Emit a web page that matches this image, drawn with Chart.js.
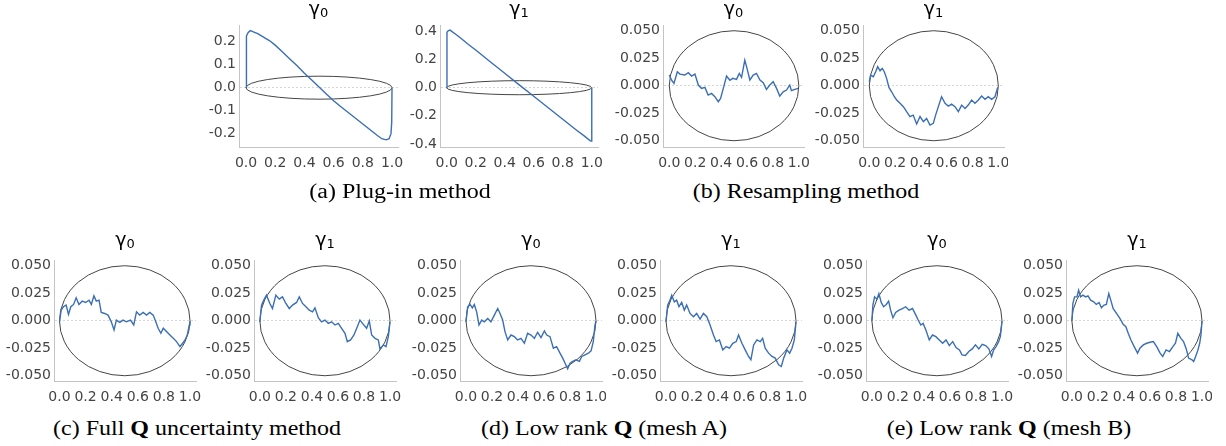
<!DOCTYPE html>
<html>
<head>
<meta charset="utf-8">
<script src="https://cdn.jsdelivr.net/npm/chart.js@4/dist/chart.umd.min.js"></script>
<style>
  html, body { margin: 0; padding: 0; background: #fff; }
  body { width: 1226px; height: 446px; position: relative; overflow: hidden; }
  canvas { position: absolute; }
  .caption {
    position: absolute;
    font-family: "Liberation Serif", "Times New Roman", serif;
    font-size: 20px;
    line-height: 20px;
    color: #000;
    white-space: nowrap;
    transform: translate(-50%, -50%) scaleX(1.2);
  }
  .ptitle {
    position: absolute;
    font-family: "DejaVu Sans", sans-serif;
    font-size: 19px;
    line-height: 19px;
    color: #000;
    white-space: nowrap;
    transform: translateX(-50%);
  }
  .ptitle sub { font-size: 13px; vertical-align: -2px; }
</style>
</head>
<body>
<script>
// ---- data ----
const xTicks = [0, 0.2, 0.4, 0.6, 0.8, 1.0];
const yTicksPlug0 = [-0.2, -0.1, 0, 0.1, 0.2];
const yTicksPlug1 = [-0.4, -0.2, 0, 0.2, 0.4];
const yTicksSmall = [-0.05, -0.025, 0, 0.025, 0.05];
const titles = ['γ<sub>0</sub>', 'γ<sub>1</sub>'];
const captions = [
  '(a) Plug-in method',
  '(b) Resampling method',
  '(c) Full <b>Q</b> uncertainty method',
  '(d) Low rank <b>Q</b> (mesh A)',
  '(e) Low rank <b>Q</b> (mesh B)'
];
// ellipse drawn in every panel (data units)
const ringX = [0, 1];
const ringY = [-0.05, 0.05];

// (a) plug-in
const plugX0 = [0, 0.001, 0.005, 0.015, 0.03, 0.05, 0.08, 0.12, 0.16, 0.2, 0.25, 0.3, 0.35, 0.4, 0.45, 0.5, 0.55, 0.6, 0.65, 0.7, 0.75, 0.8, 0.85, 0.9, 0.93, 0.96, 0.98, 0.993, 0.998, 1.0];
const plugY0 = [0, 0.2, 0.225, 0.24, 0.248, 0.243, 0.235, 0.22, 0.205, 0.185, 0.155, 0.125, 0.095, 0.063, 0.033, 0.003, -0.027, -0.057, -0.083, -0.108, -0.133, -0.158, -0.183, -0.208, -0.222, -0.227, -0.222, -0.2, -0.15, 0];
const plugX1 = [0, 0.002, 0.01, 0.023, 0.06, 0.1, 0.15, 0.2, 0.3, 0.4, 0.5, 0.6, 0.7, 0.8, 0.9, 0.95, 0.99, 0.997, 1.0];
const plugY1 = [0, 0.395, 0.405, 0.41, 0.382, 0.35, 0.308, 0.268, 0.185, 0.103, 0.02, -0.061, -0.143, -0.225, -0.306, -0.345, -0.378, -0.38, 0];

// (b) resampling
const resampX0 = [0, 0.018, 0.036, 0.062, 0.082, 0.12, 0.147, 0.172, 0.198, 0.224, 0.249, 0.275, 0.30, 0.326, 0.352, 0.378, 0.396, 0.42, 0.442, 0.468, 0.49, 0.519, 0.54, 0.558, 0.583, 0.60, 0.622, 0.648, 0.673, 0.70, 0.725, 0.75, 0.776, 0.802, 0.828, 0.853, 0.879, 0.905, 0.93, 0.943, 0.969, 0.995];
const resampY0 = [0.0097, 0.005, 0.002, 0.0127, 0.0106, 0.0097, 0.0118, 0.0088, 0.0106, 0.0006, -0.0024, -0.0015, -0.0085, -0.007, -0.01, -0.0145, -0.0115, -0.001, 0.0088, 0.005, 0.0067, 0.0058, 0.0112, 0.0076, 0.0233, 0.0158, 0.0052, 0.0097, 0.0112, 0.0052, 0.0027, -0.0033, 0.0006, 0.0036, -0.0024, -0.0094, -0.0055, -0.0039, 0.0006, -0.0045, -0.0033, -0.0024];
const resampX1 = [0, 0.01, 0.031, 0.049, 0.065, 0.083, 0.10, 0.116, 0.134, 0.152, 0.173, 0.194, 0.212, 0.238, 0.264, 0.289, 0.315, 0.34, 0.367, 0.393, 0.419, 0.444, 0.47, 0.496, 0.514, 0.535, 0.56, 0.587, 0.612, 0.638, 0.664, 0.69, 0.716, 0.742, 0.767, 0.793, 0.819, 0.845, 0.871, 0.897, 0.922, 0.948, 0.974, 0.995];
const resampY1 = [0.0036, 0.0097, 0.0082, 0.0127, 0.0173, 0.0136, 0.0158, 0.0127, 0.0067, -0.0015, -0.0055, -0.01, -0.013, -0.016, -0.019, -0.0236, -0.028, -0.0267, -0.0348, -0.028, -0.0327, -0.0297, -0.0358, -0.0342, -0.0267, -0.019, -0.01, -0.016, -0.0185, -0.0167, -0.019, -0.0236, -0.0176, -0.0206, -0.0176, -0.013, -0.016, -0.013, -0.0094, -0.0124, -0.01, -0.0124, -0.01, -0.0015];

// (c) full Q
const fullX0 = [0, 0.013, 0.03, 0.051, 0.069, 0.087, 0.108, 0.128, 0.149, 0.174, 0.2, 0.226, 0.244, 0.264, 0.282, 0.303, 0.32, 0.346, 0.372, 0.397, 0.418, 0.436, 0.462, 0.487, 0.513, 0.544, 0.569, 0.59, 0.615, 0.641, 0.667, 0.692, 0.718, 0.738, 0.756, 0.777, 0.795, 0.82, 0.846, 0.872, 0.897, 0.923, 0.944, 0.962, 0.979, 0.995, 1.0];
const fullY0 = [-0.001, 0.0096, 0.0127, 0.0142, 0.0057, 0.0127, 0.0148, 0.0208, 0.0148, 0.0178, 0.0166, 0.0187, 0.0148, 0.0226, 0.0178, 0.0187, 0.0075, 0.0066, 0.0051, -0.001, -0.0084, 0.0006, -0.0015, 0.0006, -0.001, 0.0006, -0.0039, 0.0081, 0.0051, 0.0075, 0.0051, 0.0075, 0.0051, -0.001, -0.0069, -0.0114, -0.0069, -0.0099, -0.013, -0.016, -0.019, -0.0235, -0.0205, -0.0175, -0.013, -0.0039, -0.0003];
const fullX1 = [0, 0.013, 0.03, 0.051, 0.077, 0.097, 0.123, 0.149, 0.174, 0.2, 0.226, 0.251, 0.282, 0.303, 0.328, 0.354, 0.38, 0.405, 0.423, 0.449, 0.474, 0.5, 0.526, 0.551, 0.577, 0.603, 0.628, 0.654, 0.672, 0.697, 0.723, 0.749, 0.769, 0.795, 0.82, 0.841, 0.859, 0.885, 0.91, 0.923, 0.949, 0.969, 0.987, 1.0];
const fullY1 = [-0.001, 0.0142, 0.0187, 0.0232, 0.0157, 0.0111, 0.0232, 0.0196, 0.0217, 0.0157, 0.0111, 0.0142, 0.0166, 0.0217, 0.0157, 0.0127, 0.0096, 0.0081, 0.0117, 0.0027, -0.001, 0.0006, -0.0024, -0.001, -0.0039, -0.0024, -0.0069, -0.0114, -0.019, -0.0175, -0.013, -0.0054, 0.0006, -0.0033, -0.0069, -0.0003, -0.013, -0.016, -0.0175, -0.0256, -0.022, -0.0235, -0.0145, -0.001];

// (d) low rank, mesh A
const meshAX0 = [0, 0.013, 0.031, 0.049, 0.064, 0.082, 0.1, 0.121, 0.141, 0.167, 0.192, 0.218, 0.244, 0.262, 0.282, 0.3, 0.321, 0.346, 0.372, 0.397, 0.423, 0.449, 0.474, 0.5, 0.526, 0.551, 0.577, 0.603, 0.621, 0.646, 0.672, 0.697, 0.723, 0.744, 0.762, 0.782, 0.8, 0.821, 0.846, 0.872, 0.89, 0.915, 0.941, 0.962, 0.979, 0.992, 1.0];
const meshAY0 = [-0.001, 0.0127, 0.0148, 0.0117, 0.0148, 0.0081, -0.0039, 0.0006, -0.001, 0.0021, -0.001, 0.0051, 0.0111, 0.0066, 0.0006, -0.0099, -0.0175, -0.013, -0.0145, -0.0175, -0.016, -0.0205, -0.0114, -0.013, -0.016, -0.0105, -0.0154, -0.0093, -0.013, -0.0145, -0.025, -0.0235, -0.0295, -0.034, -0.0386, -0.0437, -0.0386, -0.037, -0.0355, -0.037, -0.0325, -0.031, -0.0295, -0.0274, -0.019, -0.0039, -0.0003];
const meshAX1 = [0, 0.013, 0.031, 0.044, 0.064, 0.082, 0.1, 0.121, 0.141, 0.159, 0.185, 0.211, 0.236, 0.262, 0.288, 0.314, 0.339, 0.365, 0.386, 0.411, 0.437, 0.463, 0.488, 0.514, 0.54, 0.558, 0.584, 0.609, 0.635, 0.653, 0.674, 0.699, 0.725, 0.743, 0.763, 0.789, 0.815, 0.84, 0.866, 0.887, 0.905, 0.93, 0.951, 0.969, 0.987, 1.0];
const meshAY1 = [-0.001, 0.0142, 0.0187, 0.0232, 0.0172, 0.0187, 0.0127, 0.0166, 0.0096, 0.0142, 0.0066, 0.0036, 0.0066, 0.0015, 0.0066, 0.0036, -0.0039, -0.013, -0.019, -0.0175, -0.0265, -0.0235, -0.025, -0.0205, -0.019, -0.013, -0.0205, -0.0265, -0.0325, -0.0355, -0.022, -0.0175, -0.019, -0.016, -0.025, -0.0295, -0.0325, -0.034, -0.04, -0.0416, -0.034, -0.0265, -0.0295, -0.025, -0.0175, -0.001];

// (e) low rank, mesh B
const meshBX0 = [0, 0.008, 0.021, 0.039, 0.054, 0.072, 0.09, 0.111, 0.129, 0.144, 0.162, 0.183, 0.209, 0.235, 0.26, 0.286, 0.312, 0.338, 0.356, 0.376, 0.394, 0.415, 0.441, 0.466, 0.492, 0.518, 0.544, 0.57, 0.595, 0.621, 0.647, 0.673, 0.693, 0.719, 0.745, 0.771, 0.796, 0.822, 0.848, 0.874, 0.899, 0.92, 0.936, 0.954, 0.974, 0.987, 1.0];
const meshBY0 = [-0.0003, 0.0142, 0.0217, 0.0196, 0.0247, 0.0166, 0.0127, 0.0148, 0.0178, 0.0096, 0.0027, 0.0075, 0.0096, 0.0111, 0.0127, 0.0096, 0.0111, 0.0051, 0.0006, -0.0039, -0.0024, -0.0084, -0.0175, -0.013, -0.0145, -0.0175, -0.0205, -0.0175, -0.0226, -0.019, -0.0244, -0.0265, -0.031, -0.0316, -0.028, -0.0256, -0.022, -0.0256, -0.0214, -0.0226, -0.0256, -0.0325, -0.0265, -0.0235, -0.019, -0.0145, -0.0003];
const meshBX1 = [0, 0.008, 0.021, 0.039, 0.052, 0.067, 0.085, 0.106, 0.124, 0.144, 0.168, 0.188, 0.209, 0.227, 0.247, 0.265, 0.284, 0.299, 0.317, 0.343, 0.369, 0.394, 0.415, 0.433, 0.454, 0.479, 0.505, 0.523, 0.549, 0.575, 0.601, 0.626, 0.652, 0.678, 0.698, 0.724, 0.75, 0.776, 0.796, 0.814, 0.838, 0.858, 0.879, 0.897, 0.923, 0.936, 0.951, 0.969, 0.982, 0.992, 1.0];
const meshBY1 = [-0.0003, 0.0157, 0.0217, 0.0217, 0.0277, 0.0217, 0.0232, 0.0217, 0.0226, 0.0187, 0.0172, 0.0148, 0.0166, 0.0117, 0.0142, 0.0148, 0.0247, 0.0187, 0.0111, 0.0066, 0.0021, -0.0033, -0.0054, -0.0114, -0.0175, -0.0235, -0.0295, -0.025, -0.022, -0.0205, -0.0196, -0.019, -0.0235, -0.0295, -0.0325, -0.0265, -0.028, -0.0235, -0.0205, -0.0114, -0.016, -0.019, -0.0256, -0.034, -0.0355, -0.037, -0.0325, -0.0265, -0.0205, -0.013, -0.0003];

// ---- layout: plot area of each panel in page px, plus axis ranges ----
const panels = [
  { xs: plugX0, ys: plugY0, t: 0, yTicks: yTicksPlug0, dec: 1, area: [239, 25, 159, 122], xr: [-0.048, 1.041], yr: [-0.258, 0.2726], row: 0, rp: 10 },
  { xs: plugX1, ys: plugY1, t: 1, yTicks: yTicksPlug1, dec: 1, area: [440, 25, 158, 122], xr: [-0.046, 1.043], yr: [-0.4221, 0.4463], row: 0, rp: 4 },
  { xs: resampX0, ys: resampY0, t: 0, yTicks: yTicksSmall, dec: 3, area: [663, 25, 141, 122], xr: [-0.0486, 1.04], yr: [-0.0557, 0.0552], row: 0, rp: 10 },
  { xs: resampX1, ys: resampY1, t: 1, yTicks: yTicksSmall, dec: 3, area: [863, 25, 141, 122], xr: [-0.049, 1.044], yr: [-0.0557, 0.0552], row: 0, rp: 4 },
  { xs: fullX0, ys: fullY0, t: 0, yTicks: yTicksSmall, dec: 3, area: [54, 260, 142, 121], xr: [-0.042, 1.046], yr: [-0.0548, 0.0552], row: 1, rp: 10 },
  { xs: fullX1, ys: fullY1, t: 1, yTicks: yTicksSmall, dec: 3, area: [254, 260, 142, 121], xr: [-0.045, 1.046], yr: [-0.0548, 0.0552], row: 1, rp: 10 },
  { xs: meshAX0, ys: meshAY0, t: 0, yTicks: yTicksSmall, dec: 3, area: [460, 260, 142, 121], xr: [-0.046, 1.046], yr: [-0.0548, 0.0552], row: 1, rp: 4 },
  { xs: meshAX1, ys: meshAY1, t: 1, yTicks: yTicksSmall, dec: 3, area: [660, 260, 142, 121], xr: [-0.046, 1.046], yr: [-0.0548, 0.0552], row: 1, rp: 10 },
  { xs: meshBX0, ys: meshBY0, t: 0, yTicks: yTicksSmall, dec: 3, area: [866, 260, 142, 121], xr: [-0.045, 1.046], yr: [-0.0548, 0.0552], row: 1, rp: 10 },
  { xs: meshBX1, ys: meshBY1, t: 1, yTicks: yTicksSmall, dec: 3, area: [1066, 260, 142, 121], xr: [-0.045, 1.046], yr: [-0.0548, 0.0552], row: 1, rp: 4 }
];
const captionPos = [[400, 191], [806, 191], [197, 428], [604, 428], [1009, 428]];
const titleTop = [-1, 230];   // top of title line box for each row

const YW = 50;   // room for y tick labels
const XH = 22;   // room for x tick labels
const TM = 10;   // margin above the plot area
const tickFont = { family: '"DejaVu Sans", sans-serif', size: 14, lineHeight: 1 };

// ellipse around each trace, placed through the chart scales
const ringPlugin = {
  id: 'ring',
  beforeDatasetsDraw(chart) {
    const { ctx, scales: { x, y } } = chart;
    const cx = x.getPixelForValue((ringX[0] + ringX[1]) / 2);
    const cy = y.getPixelForValue((ringY[0] + ringY[1]) / 2);
    const rx = Math.abs(x.getPixelForValue(ringX[1]) - cx);
    const ry = Math.abs(y.getPixelForValue(ringY[1]) - cy);
    ctx.save();
    ctx.strokeStyle = '#454545';
    ctx.lineWidth = 1;
    ctx.beginPath();
    ctx.ellipse(cx, cy, rx, ry, 0, 0, Math.PI * 2);
    ctx.stroke();
    ctx.restore();
  }
};

panels.forEach(p => {
  const [l, t, w, h] = p.area;
  const cv = document.createElement('canvas');
  cv.width = YW + w + p.rp;
  cv.height = TM + h + XH;
  cv.style.left = (l - YW) + 'px';
  cv.style.top = (t - TM) + 'px';
  document.body.appendChild(cv);

  const ttl = document.createElement('div');
  ttl.className = 'ptitle';
  ttl.innerHTML = titles[p.t];
  ttl.style.left = (l + w / 2) + 'px';
  ttl.style.top = titleTop[p.row] + 'px';
  document.body.appendChild(ttl);

  const pts = p.xs.map((x, i) => ({ x: x, y: p.ys[i] }));

  new Chart(cv, {
    type: 'line',
    data: {
      datasets: [{
        data: pts,
        borderColor: '#3b6fb4',
        borderWidth: 1.4,
        pointRadius: 0,
        tension: 0,
        fill: false
      }]
    },
    options: {
      responsive: false,
      animation: false,
      devicePixelRatio: 1,
      layout: { padding: { left: 0, right: p.rp, top: TM, bottom: 0 } },
      plugins: {
        legend: { display: false },
        tooltip: { enabled: false },
        title: { display: false }
      },
      scales: {
        x: {
          type: 'linear',
          min: p.xr[0],
          max: p.xr[1],
          afterBuildTicks: s => { s.ticks = xTicks.map(v => ({ value: v })); },
          afterFit: s => { s.height = XH; s.paddingLeft = 0; s.paddingRight = 0; },
          grid: { display: false },
          border: { color: '#c4c4c4', width: 1 },
          ticks: {
            font: tickFont, color: '#444', padding: 1,
            maxRotation: 0, minRotation: 0, autoSkip: false,
            callback: v => v.toFixed(1)
          }
        },
        y: {
          type: 'linear',
          min: p.yr[0],
          max: p.yr[1],
          afterBuildTicks: s => { s.ticks = p.yTicks.map(v => ({ value: v })); },
          afterFit: s => { s.width = YW; s.paddingTop = 0; s.paddingBottom = 0; },
          grid: {
            drawTicks: false,
            lineWidth: 1,
            color: c => (c.tick && c.tick.value === 0) ? '#d6d6d6' : 'rgba(0,0,0,0)'
          },
          border: { color: '#c4c4c4', width: 1, dash: [2, 2] },
          ticks: {
            font: tickFont, color: '#444', padding: 3,
            autoSkip: false,
            callback: v => v.toFixed(p.dec)
          }
        }
      }
    },
    plugins: [ringPlugin]
  });
});

captions.forEach((c, i) => {
  const d = document.createElement('div');
  d.className = 'caption';
  d.innerHTML = c;
  d.style.left = captionPos[i][0] + 'px';
  d.style.top = captionPos[i][1] + 'px';
  document.body.appendChild(d);
});
</script>
</body>
</html>
